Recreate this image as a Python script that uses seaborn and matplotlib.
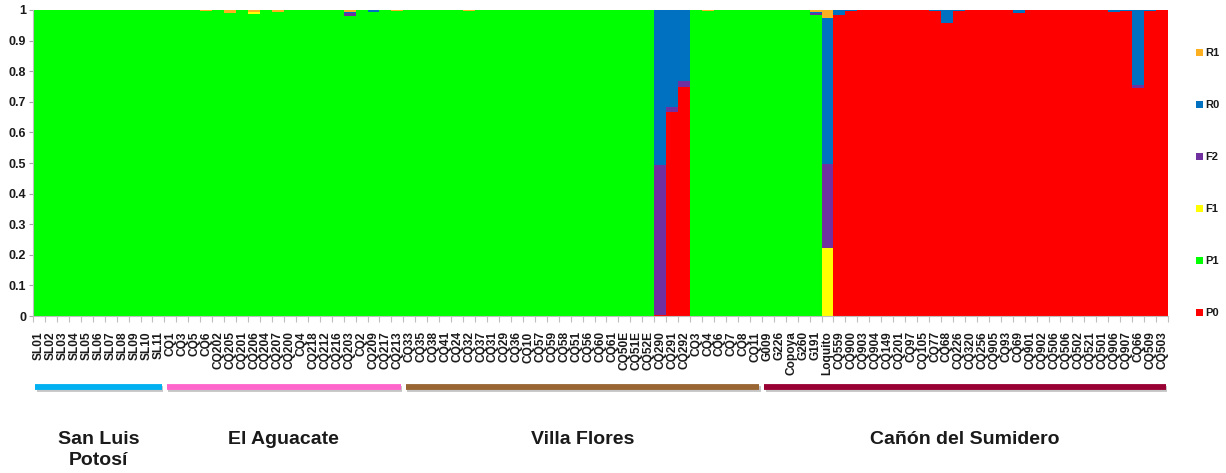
import numpy as np
import pandas as pd
import matplotlib
matplotlib.use("Agg")
import matplotlib.pyplot as plt
import matplotlib.patheffects as pe
from matplotlib.patches import Patch
from matplotlib.transforms import blended_transform_factory
import seaborn as sns

# ---- sample names, grouped by population ----
san_luis = ["SL01", "SL02", "SL03", "SL04", "SL05", "SL06", "SL07", "SL08",
            "SL09", "SL10", "SL11"]
aguacate = ["CQ1", "CQ3", "CQ5", "CQ6", "CQ202", "CQ205", "CQ201", "CQ206",
            "CQ204", "CQ207", "CQ200", "CQ4", "CQ218", "CQ212", "CQ216",
            "CQ203", "CQ2", "CQ209", "CQ217", "CQ213"]
villa_flores = ["CQ33", "CQ35", "CQ38", "CQ41", "CQ24", "CQ32", "CQ37", "CQ31",
                "CQ29", "CQ36", "CQ10", "CQ57", "CQ59", "CQ58", "CQ51", "CQ56",
                "CQ60", "CQ61", "CQ50E", "CQ51E", "CQ52E", "CQ290", "CQ291",
                "CQ292", "CQ3", "CQ4", "CQ6", "CQ7", "CQ8", "CQ11"]
sumidero = ["G009", "G226", "Copoya", "G260", "G191", "Loquito", "CQ559",
            "CQ900", "CQ903", "CQ904", "CQ149", "CQ201", "CQ97", "CQ105",
            "CQ77", "CQ68", "CQ226", "CQ320", "CQ256", "CQ905", "CQ93", "CQ69",
            "CQ901", "CQ902", "CQ506", "CQ506", "CQ502", "CQ521", "CQ501",
            "CQ906", "CQ907", "CQ66", "CQ509", "CQ503"]

population_names = ["San Luis\nPotosí", "El Aguacate", "Villa Flores",
                    "Cañón del Sumidero"]
population_samples = [san_luis, aguacate, villa_flores, sumidero]
population_colors = ["#00B0F0", "#FF66CC", "#996633", "#990033"]

# ---- class membership (q) per sample, listed population by population ----
P0 = ([0] * 11
      + [0, 0, 0, 0, 0, 0, 0, 0, 0, 0, 0, 0, 0, 0, 0, 0, 0, 0, 0, 0]
      + [0, 0, 0, 0, 0, 0, 0, 0, 0, 0, 0, 0, 0, 0, 0, 0, 0, 0, 0, 0, 0,
         0.003, 0.667, 0.747, 0, 0, 0, 0, 0, 0]
      + [0, 0, 0, 0, 0, 0, 0.984, 0.997, 1, 1, 1, 1, 1, 1, 0.997, 0.957,
         0.997, 1, 1, 1, 1, 0.991, 1, 1, 1, 1, 1, 1, 1, 0.995, 0.996, 0.745,
         0.997, 1])
P1 = ([1] * 11
      + [1, 1, 1, 0.996, 1, 0.99, 1, 0.988, 1, 0.992, 1, 1, 1, 1, 1, 0.98, 1,
         0.995, 1, 0.997]
      + [1, 1, 1, 1, 1, 0.997, 1, 1, 1, 1, 1, 1, 1, 1, 1, 1, 1, 1, 1, 1, 1,
         0, 0, 0, 1, 0.997, 1, 1, 1, 1]
      + [1, 1, 1, 1, 0.985, 0, 0, 0, 0, 0, 0, 0, 0, 0, 0, 0, 0, 0, 0, 0, 0,
         0, 0, 0, 0, 0, 0, 0, 0, 0, 0, 0, 0, 0])
F1 = ([0] * 11
      + [0, 0, 0, 0, 0, 0, 0, 0.004, 0, 0, 0, 0, 0, 0, 0, 0, 0, 0, 0, 0]
      + [0] * 30
      + [0, 0, 0, 0, 0, 0.221, 0, 0, 0, 0, 0, 0, 0, 0, 0, 0, 0, 0, 0, 0, 0,
         0, 0, 0, 0, 0, 0, 0, 0, 0, 0, 0, 0, 0])
F2 = ([0] * 11
      + [0, 0, 0, 0, 0, 0, 0, 0, 0, 0, 0, 0, 0, 0, 0, 0.009, 0, 0, 0, 0]
      + [0, 0, 0, 0, 0, 0, 0, 0, 0, 0, 0, 0, 0, 0, 0, 0, 0, 0, 0, 0, 0,
         0.49, 0.016, 0.021, 0, 0, 0, 0, 0, 0]
      + [0, 0, 0, 0, 0.006, 0.276, 0, 0, 0, 0, 0, 0, 0, 0, 0, 0, 0, 0, 0, 0,
         0, 0, 0, 0, 0, 0, 0, 0, 0, 0, 0, 0.01, 0, 0])
R0 = ([0] * 11
      + [0, 0, 0, 0, 0, 0, 0, 0, 0, 0, 0, 0, 0, 0, 0, 0.003, 0, 0.005, 0, 0]
      + [0, 0, 0, 0, 0, 0, 0, 0, 0, 0, 0, 0, 0, 0, 0, 0, 0, 0, 0, 0, 0,
         0.507, 0.317, 0.232, 0, 0, 0, 0, 0, 0]
      + [0, 0, 0, 0, 0.003, 0.476, 0.016, 0.003, 0, 0, 0, 0, 0, 0, 0.003,
         0.043, 0.003, 0, 0, 0, 0, 0.009, 0, 0, 0, 0, 0, 0, 0, 0.005, 0.004,
         0.245, 0.003, 0])
R1 = ([0] * 11
      + [0, 0, 0, 0.004, 0, 0.01, 0, 0.008, 0, 0.008, 0, 0, 0, 0, 0, 0.008,
         0, 0, 0, 0.003]
      + [0, 0, 0, 0, 0, 0.003, 0, 0, 0, 0, 0, 0, 0, 0, 0, 0, 0, 0, 0, 0, 0,
         0, 0, 0, 0, 0.003, 0, 0, 0, 0]
      + [0, 0, 0, 0, 0.006, 0.027, 0, 0, 0, 0, 0, 0, 0, 0, 0, 0, 0, 0, 0, 0,
         0, 0, 0, 0, 0, 0, 0, 0, 0, 0, 0, 0, 0, 0])

classes = ["R1", "R0", "F2", "F1", "P1", "P0"]          # top to bottom
class_values = {"R1": R1, "R0": R0, "F2": F2, "F1": F1, "P1": P1, "P0": P0}
class_colors = {"R1": "#FFB020", "R0": "#0070C0", "F2": "#7030A0",
                "F1": "#FFFF00", "P1": "#00FF00", "P0": "#FF0000"}

samples = [s for group in population_samples for s in group]
n = len(samples)

df = pd.DataFrame([
    {"pos": i, "class": c, "q": class_values[c][i]}
    for c in classes for i in range(n)
])

# ---- styling ----
sns.set_theme(style="white")
plt.rcParams["font.family"] = ["Liberation Sans", "DejaVu Sans"]
plt.rcParams["font.weight"] = "bold"
text_color = "#1a1a1a"

fig = plt.figure(figsize=(12.26, 4.73), dpi=100)
ax = fig.add_axes([33 / 1226, 1 - 316 / 473, 1135 / 1226, 306 / 473])

# stacked membership bars (last hue level sits at the bottom)
sns.histplot(data=df, x="pos", weights="q", hue="class", hue_order=classes,
             palette=class_colors, multiple="stack", discrete=True, shrink=1,
             alpha=1, linewidth=0, legend=False, ax=ax, antialiased=False)

ax.set_xlim(-0.5, n - 0.5)
ax.set_ylim(0, 1)
ax.set_xlabel("")
ax.set_ylabel("")

# y axis
yticks = np.round(np.arange(0, 1.01, 0.1), 1)
ax.set_yticks(yticks)
ax.set_yticklabels(["0" if v == 0 else ("1" if v == 1 else f"{v:g}") for v in yticks],
                   fontsize=9, fontweight="bold", color=text_color)
ax.tick_params(axis="y", which="major", length=3, width=0.8, color="#A6A6A6",
               pad=2, left=True, direction="out")

# x axis: labels centred on bars, tick marks between bars
ax.set_xticks(np.arange(n))
ax.set_xticklabels(samples, rotation=90, fontsize=8.6, fontweight="bold",
                   color=text_color, va="top", ha="center")
ax.set_xticks(np.arange(-0.5, n, 1.0), minor=True)
ax.tick_params(axis="x", which="major", length=0, pad=11, bottom=True)
ax.tick_params(axis="x", which="minor", length=4, width=0.8, color="#BFBFBF",
               bottom=True, direction="out")

for side in ["top", "right"]:
    ax.spines[side].set_visible(False)
for side in ["left", "bottom"]:
    ax.spines[side].set_color("#BFBFBF")
    ax.spines[side].set_linewidth(0.8)

# population bars and names below the sample labels
trans = blended_transform_factory(ax.transData, ax.transAxes)
start = 0
for name, group, col in zip(population_names, population_samples, population_colors):
    end = start + len(group) - 1
    x0, x1 = start - 0.3, end + 0.3
    ax.plot([x0, x1], [-0.232, -0.232], transform=trans, clip_on=False,
            color=col, linewidth=4.2, solid_capstyle="butt",
            path_effects=[pe.SimpleLineShadow(offset=(1, -1.5), shadow_color="gray",
                                              alpha=0.45), pe.Normal()])
    ax.text((x0 + x1) / 2, -0.375, name, transform=trans, ha="center", va="top",
            fontsize=14, fontweight="bold", color=text_color, linespacing=1.35)
    start = end + 1

# legend on the right
handles = [Patch(facecolor=class_colors[c], edgecolor="none", label=c) for c in classes]
leg = fig.legend(handles=handles, loc="upper left", bbox_to_anchor=(1186 / 1226, 1 - 38 / 473),
                 frameon=False, handlelength=0.6, handleheight=0.6, handletextpad=0.25,
                 labelspacing=3.78, prop={"size": 8, "weight": "bold"})
for t in leg.get_texts():
    t.set_color(text_color)

fig.savefig("out.png", dpi=100)
